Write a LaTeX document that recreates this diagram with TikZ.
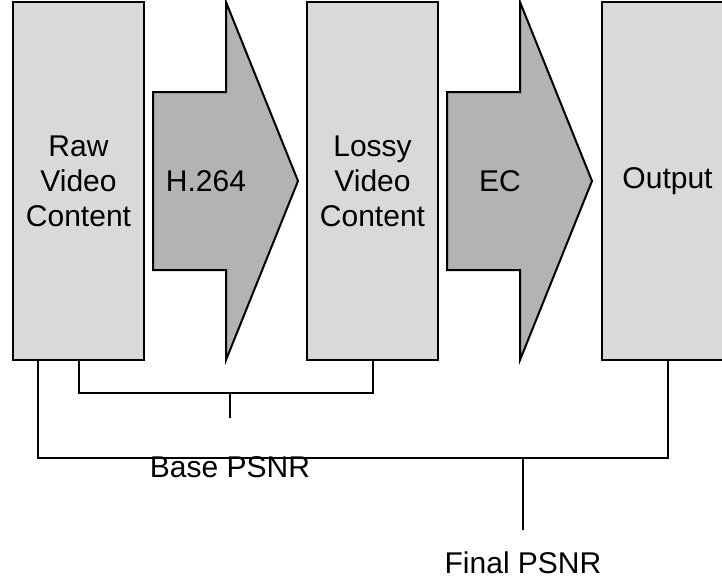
\documentclass[tikz,border=0pt]{standalone}
\usepackage{fontspec}
\setmainfont{Liberation Sans}
\usetikzlibrary{calc}
\definecolor{boxgray}{RGB}{217,217,217}
\definecolor{arrowgray}{RGB}{179,179,179}
\tikzset{
  stage/.style={draw, fill=boxgray, line width=2pt, minimum width=131pt, minimum height=358pt,
    align=center, inner sep=0pt, font=\fontsize{30}{35}\selectfont},
  codec/.style={draw, fill=arrowgray, line width=2pt, line join=miter},
  label/.style={inner sep=0pt, font=\fontsize{30}{35}\selectfont},
  wire/.style={line width=2pt}
}

\begin{document}
\begin{tikzpicture}[x=1pt, y=-1pt]
\useasboundingbox (0,0) rectangle (722,579);

% the three stages
\node[stage] (raw) at (78.5, 181) {Raw\\Video\\Content};
\node[stage] (lossy) at (372.5, 181) {Lossy\\Video\\Content};
\node[stage] (out) at (667.5, 181) {Output};

% the two coding steps
\foreach \x/\name/\txt in {153/enc/H.264, 447/ec/EC} {
  \draw[codec] (\x, 92) -- ++(73, 0) -- ++(0, -90) -- ++(72, 179) -- ++(-72, 179) -- ++(0, -90) -- ++(-73, 0) -- cycle;
  \node[label] (\name) at (\x+53, 181) {\txt};
}

\node[label] (base) at (230, 467) {Base PSNR};
\node[label] (final) at (523, 563) {Final PSNR};

% quality brackets
\coordinate (bmid) at (base.north |- 0, 393);
\draw[wire] (raw.south) |- (bmid) -| (lossy.south);
\draw[wire] (bmid) -- ++(0, 25);

\coordinate (fmid) at (final.north |- 0, 458);
\draw[wire] ([xshift=26]raw.south west) |- (fmid) -| (out.south);
\draw[wire] (fmid) -- ++(0, 72);

\end{tikzpicture}
\end{document}
